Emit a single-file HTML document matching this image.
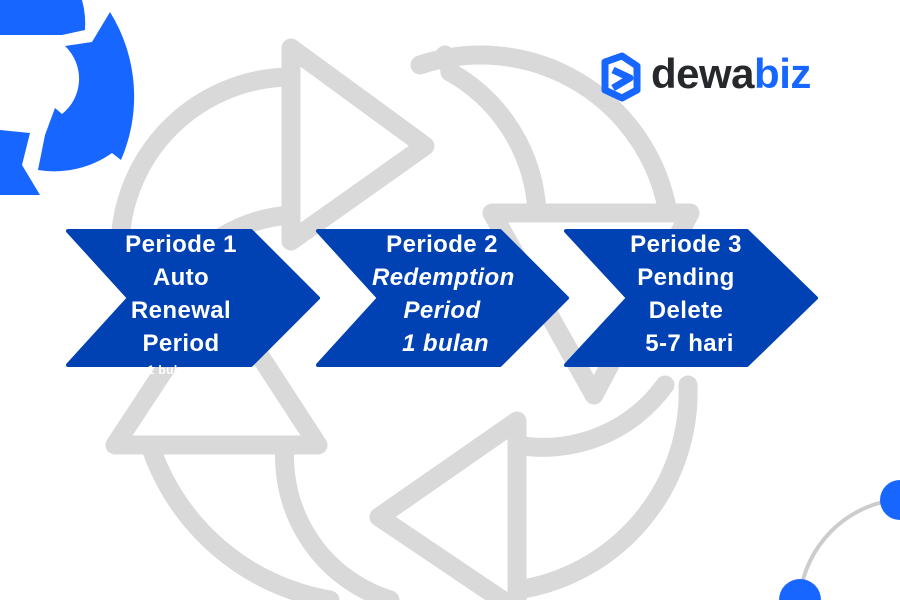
<!DOCTYPE html>
<html><head><meta charset="utf-8"><style>
html,body{margin:0;padding:0;background:#fff;}
body{width:900px;height:600px;overflow:hidden;position:relative;font-family:"Liberation Sans",sans-serif;}
svg{position:absolute;left:0;top:0;}
.t{position:absolute;color:#fff;font-weight:bold;font-size:24px;line-height:33px;text-align:center;white-space:nowrap;letter-spacing:0.4px;}
.logo{position:absolute;left:651px;top:50px;font-size:42px;font-weight:bold;color:#26282c;letter-spacing:-0.5px;}
</style></head><body>
<svg width="900" height="600" viewBox="0 0 900 600">
 <g fill="none" stroke="#d9d9d9" stroke-width="19" stroke-linejoin="round" stroke-linecap="round">
  <path d="M291,48 L425,146 L291,241 Z"/>
  <path d="M291,77 A172,172 0 0 0 120,250"/>
  <path d="M291,215 A150,150 0 0 0 170,290"/>
  <path d="M420,65 A190,190 0 0 1 668,213"/>
  <path d="M450,70 L445,55"/>
  <path d="M450,72 A170,170 0 0 1 537,213"/>
  <path d="M492,213 L690,213 L594,395 Z"/>
  <path d="M115,445 L318,445 L217,290 Z"/>
  <path d="M150,445 A230,230 0 0 0 330,600"/>
  <path d="M285,445 A150,150 0 0 0 390,600"/>
  <path d="M379,517 L517,421 L517,610 Z"/>
  <path d="M517,445 A150,150 0 0 0 665,385"/>
  <path d="M688,385 A200,200 0 0 1 517,590"/>
 </g>
 <g fill="#0041b3" stroke="#0041b3" stroke-width="4" stroke-linejoin="round">
  <path d="M68,231 L251,231 L318,298 L251,365 L68,365 L129,298 Z"/>
  <path d="M318,231 L500,231 L567,298 L500,365 L318,365 L379,298 Z"/>
  <path d="M566,231 L747,231 L816,298 L747,365 L566,365 L628,298 Z"/>
 </g>
 <g fill="#1766ff">
  <path d="M0,0 L82,0 A90,90 0 0 1 85,30 L62,35 L0,35 Z"/>
  <path d="M110,12 A160,160 0 0 1 121,160 L112,153 A100,100 0 0 1 38,170 L45,135 L55,108 L62,114 A45,45 0 0 0 65,46 L92,42 Z"/>
  <path d="M0,130 L30,133 L22,165 L40,195 L0,195 Z"/>
 </g>
 <path d="M800,595 A110,110 0 0 1 893,500" fill="none" stroke="#cccccc" stroke-width="4"/>
 <circle cx="900" cy="500" r="20" fill="#1766ff"/>
 <circle cx="800" cy="600" r="21" fill="#1766ff"/>
 <g fill="none" stroke="#1766ff" stroke-width="7" stroke-linejoin="round">
  <path d="M605,62 L622,56 L637,66 L637,90 L622,98 L605,90 Z"/>
  <path d="M613,70 L630,78 L613,88"/>
 </g>
</svg>
<div class="logo">dewa<span style="color:#1766ff">biz</span></div>
<div class="t" style="left:111px;top:228px;width:140px;">Periode 1<br>Auto<br>Renewal<br>Period</div>
<div class="t" style="left:130px;top:362px;width:80px;font-size:12px;line-height:16px;">1 bulan</div>
<div class="t" style="left:372px;top:228px;width:140px;">Periode 2<br><i>Redemption</i><br><i>Period</i><br><i>&nbsp;1 bulan</i></div>
<div class="t" style="left:616px;top:228px;width:140px;">Periode 3<br>Pending<br>Delete<br>&nbsp;5-7 hari</div>
</body></html>
